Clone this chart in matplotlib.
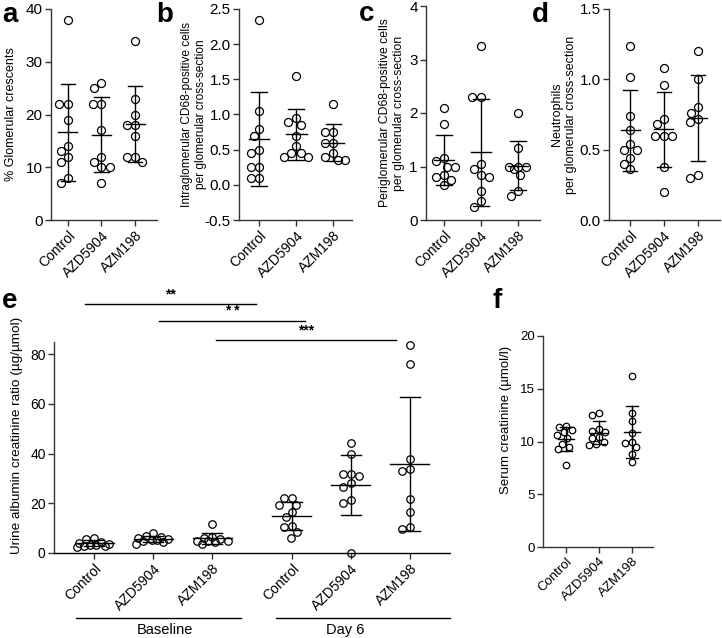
import matplotlib
matplotlib.use('Agg')
import matplotlib.pyplot as plt
import numpy as np

plt.rcParams['font.family'] = ['Liberation Sans', 'DejaVu Sans']
plt.rcParams['axes.unicode_minus'] = False

groups = ['Control', 'AZD5904', 'AZM198']

# a: % glomerular crescents
crescents = [
    [38, 22, 22, 19, 14, 13, 12, 11, 8, 7],
    [26, 25, 22, 22, 17, 12, 11, 10, 10, 7],
    [34, 23, 20, 18, 18, 16, 12, 12, 11],
]
# b: intraglomerular CD68+ cells
intra_cd68 = [
    [2.35, 1.05, 0.8, 0.7, 0.5, 0.45, 0.25, 0.25, 0.1, 0.1],
    [1.55, 0.95, 0.9, 0.85, 0.7, 0.55, 0.45, 0.45, 0.4, 0.4],
    [1.15, 0.75, 0.75, 0.6, 0.6, 0.45, 0.4, 0.35, 0.35],
]
# c: periglomerular CD68+ cells
peri_cd68 = [
    [2.1, 1.8, 1.15, 1.1, 1.0, 1.0, 0.85, 0.8, 0.75, 0.65],
    [3.25, 2.3, 2.3, 1.05, 0.95, 0.85, 0.8, 0.55, 0.35, 0.25],
    [2.0, 1.35, 1.0, 1.0, 1.0, 0.95, 0.85, 0.55, 0.45],
]
# d: neutrophils
neutrophils = [
    [1.24, 1.02, 0.74, 0.64, 0.54, 0.5, 0.5, 0.44, 0.4, 0.36],
    [1.08, 0.96, 0.72, 0.68, 0.6, 0.6, 0.6, 0.38, 0.2],
    [1.2, 1.0, 0.8, 0.76, 0.72, 0.7, 0.32, 0.3],
]
# e: urine albumin creatinine ratio, baseline then day 6
uacr = [
    [5.8, 5.9, 4.4, 4.2, 3.8, 3.4, 3.2, 2.8, 2.6, 3.0],
    [8.0, 6.8, 6.6, 6.0, 5.6, 5.4, 5.2, 4.8, 4.5, 3.8],
    [11.6, 6.4, 6.2, 5.8, 5.0, 5.0, 4.9, 4.3, 3.8],
    [22.0, 22.0, 19.3, 19.3, 16.4, 14.3, 10.9, 10.3, 8.4, 6.0],
    [44.3, 39.7, 31.6, 31.6, 31.1, 28.0, 26.7, 21.3, 20.0, 0.0],
    [83.6, 75.9, 37.8, 33.9, 33.1, 21.6, 16.4, 10.3, 9.6],
]
uacr_pos = [0, 1, 2, 3.35, 4.35, 5.35]
uacr_labels = groups + groups
# significance brackets: (x start, x end, y, label)
sig = [(-0.15, 2.75, 100.1, '**'), (1.10, 3.58, 93.3, '* *'), (2.07, 5.12, 85.6, '***')]
# f: serum creatinine
creatinine = [
    [11.5, 11.4, 11.1, 10.9, 10.6, 10.3, 9.8, 9.5, 9.3, 7.8],
    [12.7, 12.5, 11.2, 11.0, 10.9, 10.4, 10.3, 10.0, 9.8, 9.7],
    [16.2, 12.7, 11.9, 10.8, 10.0, 9.9, 9.5, 8.8, 8.1],
]

W, H = 722, 638
fig = plt.figure(figsize=(W / 100, H / 100), dpi=100)


def add_ax(l, t, r, b):
    return fig.add_axes([l / W, 1 - b / H, (r - l) / W, (b - t) / H])


def swarm(ax, xc, vals, d, maxw):
    # greedy scatter in pixel space, limited to +-maxw px; overlaps when crowded
    pts = ax.transData.transform(np.column_stack([np.full(len(vals), xc), vals]))
    x0, ys = pts[0, 0], pts[:, 1]
    grid = np.arange(-maxw, maxw + 0.01, 0.5)
    grid = grid[np.argsort(np.abs(grid), kind='stable')]
    xs = np.zeros(len(vals))
    placed = []
    for i in np.argsort(-np.asarray(vals), kind='stable'):
        y = ys[i]
        if not placed:
            c = 0.0
        else:
            P = np.array(placed)
            dist = np.sqrt((grid[:, None] - P[None, :, 0]) ** 2 + (y - P[None, :, 1]) ** 2).min(axis=1)
            ok = np.nonzero(dist >= d)[0]
            c = grid[ok[0]] if len(ok) else grid[np.argmax(dist)]
        xs[i] = c
        placed.append((c, y))
    back = ax.transData.inverted().transform(np.column_stack([x0 + xs, ys]))
    return back[:, 0]


def dotplot(ax, pos, data, ms_px, mean_hw, cap_hw, maxw):
    for x, vals in zip(pos, data):
        v = np.asarray(vals, float)
        m, s = v.mean(), v.std(ddof=1)
        xs = swarm(ax, x, v, ms_px * 1.05, maxw)
        ax.plot(xs, v, 'o', mfc='none', mec='black', ms=ms_px * 0.72, mew=0.9,
                zorder=3, clip_on=False)
        ax.plot([x - mean_hw, x + mean_hw], [m, m], color='black', lw=1.0, zorder=4)
        ax.plot([x, x], [m - s, m + s], color='black', lw=1.0, zorder=4)
        for yy in (m - s, m + s):
            ax.plot([x - cap_hw, x + cap_hw], [yy, yy], color='black', lw=1.0, zorder=4)


def style(ax, labels, pos, fs=11, lfs=10):
    for sp in ('top', 'right'):
        ax.spines[sp].set_visible(False)
    for sp in ('left', 'bottom'):
        ax.spines[sp].set_color('#333333')
        ax.spines[sp].set_linewidth(1.0)
    ax.set_xticks(pos)
    ax.set_xticklabels(labels, rotation=45, ha='right', rotation_mode='anchor', fontsize=lfs)
    ax.tick_params(axis='both', length=4, width=1.0, color='#333333', labelsize=fs, pad=2)
    ax.tick_params(axis='x', labelsize=lfs)


def ylab(ax, text, right_px, fs=9, yc=0.5):
    ax.set_ylabel(text, fontsize=fs)
    bb = ax.get_position()
    l = bb.x0 * W
    ax.yaxis.set_label_coords((right_px - l) / (bb.width * W), yc)


# panel a
ax = add_ax(51, 9, 157, 220)
ax.set_xlim(-0.5, 2.65)
ax.set_ylim(0, 40)
ax.set_yticks([0, 10, 20, 30, 40])
dotplot(ax, range(3), crescents, 8, 0.28, 0.21, 12)
style(ax, groups, range(3))
ylab(ax, '% Glomerular crescents', 17)

# panel b
ax = add_ax(239, 9, 352, 220)
ax.set_xlim(-0.54, 2.5)
ax.set_ylim(-0.5, 2.5)
ax.set_yticks(np.arange(-0.5, 2.51, 0.5))
ax.yaxis.set_major_formatter(matplotlib.ticker.FormatStrFormatter('%.1f'))
dotplot(ax, range(3), intra_cd68, 8, 0.28, 0.21, 12)
style(ax, groups, range(3))
ylab(ax, 'Intraglomerular CD68-positive cells\nper glomerular cross-section', 207, fs=8.6)

# panel c
ax = add_ax(426, 6, 540, 220)
ax.set_xlim(-0.49, 2.6)
ax.set_ylim(0, 4)
ax.set_yticks([0, 1, 2, 3, 4])
dotplot(ax, range(3), peri_cd68, 8, 0.28, 0.21, 12)
style(ax, groups, range(3))
ylab(ax, 'Periglomerular CD68-positive cells\nper glomerular cross-section', 405, fs=8.8)

# panel d
ax = add_ax(609, 9, 720, 220)
ax.set_xlim(-0.62, 2.65)
ax.set_ylim(0, 1.5)
ax.set_yticks([0, 0.5, 1.0, 1.5])
ax.yaxis.set_major_formatter(matplotlib.ticker.FormatStrFormatter('%.1f'))
dotplot(ax, range(3), neutrophils, 8, 0.28, 0.21, 12)
style(ax, groups, range(3))
ylab(ax, 'Neutrophils\nper glomerular cross-section', 577)

# panel e
ax = add_ax(54, 341.6, 450, 553)
ax.set_xlim(-0.68, 6.03)
ax.set_ylim(0, 85)
ax.set_yticks([0, 20, 40, 60, 80])
dotplot(ax, uacr_pos, uacr, 7.5, 0.33, 0.165, 17)
style(ax, uacr_labels, uacr_pos, fs=10, lfs=10)
ax.spines['bottom'].set_linestyle((0, (1, 1)))
ax.spines['bottom'].set_color('black')
ylab(ax, 'Urine albumin creatinine ratio (µg/µmol)', 23, fs=9.7, yc=0.555)
for x0, x1, y, lab in sig:
    ax.plot([x0, x1], [y, y], color='black', lw=1.0, clip_on=False)
    ax.text((x0 + x1) / 2, y + 1.2, lab, ha='center', va='bottom', fontsize=10,
            fontweight='bold')
trans = matplotlib.transforms.blended_transform_factory(ax.transData, ax.transAxes)
for x0, x1, lab, xt in [(-0.3, 2.49, 'Baseline', 1.2), (3.08, 6.03, 'Day 6', 4.25)]:
    ax.plot([x0, x1], [-0.307, -0.307], color='black', lw=1.0, transform=trans, clip_on=False)
    ax.text(xt, -0.364, lab, ha='center', va='center', fontsize=10.5, transform=trans)

# panel f
ax = add_ax(543, 336, 653, 547)
ax.set_xlim(-0.7, 2.64)
ax.set_ylim(0, 20)
ax.set_yticks([0, 5, 10, 15, 20])
dotplot(ax, range(3), creatinine, 6.5, 0.25, 0.18, 10)
style(ax, groups, range(3), fs=9.5, lfs=9.5)
ylab(ax, 'Serum creatinine (µmol/l)', 512, fs=9.5, yc=0.6)

for lab, x, y in [('a', 10, 15), ('b', 165, 15), ('c', 367, 14), ('d', 540, 15),
                  ('e', 10, 301), ('f', 497, 301)]:
    fig.text(x / W, 1 - y / H, lab, fontsize=20, fontweight='bold', ha='center', va='center')

fig.savefig('out.png', dpi=100)
